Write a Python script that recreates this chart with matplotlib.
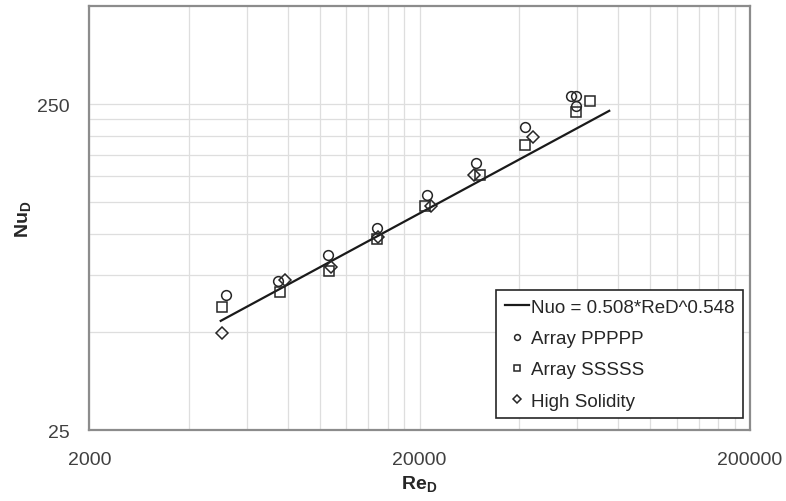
import matplotlib
matplotlib.use("Agg")
import matplotlib.pyplot as plt
import numpy as np
from matplotlib.ticker import FixedLocator, NullFormatter, FixedFormatter

plt.rcParams['font.family'] = ['Liberation Sans', 'DejaVu Sans']
plt.rcParams['mathtext.fontset'] = 'custom'
plt.rcParams['mathtext.rm'] = 'Liberation Sans'
plt.rcParams['mathtext.bf'] = 'Liberation Sans:bold'

# data
re_ppppp = [5170, 7470, 10580, 14860, 21040, 29640, 41600, 57600, 59400, 59400]
nu_ppppp = [64.9, 71.6, 86.3, 104.5, 131.7, 164.8, 212, 265, 265, 247]

re_sssss = [5050, 7550, 10600, 14860, 20800, 30550, 41700, 59400, 65600]
nu_sssss = [59.5, 66.4, 76.9, 96.4, 121.4, 151.6, 187.6, 235.7, 254.8]

re_high = [5050, 7850, 10800, 14950, 21640, 29160, 44060]
nu_high = [49.6, 72.3, 78.9, 97.7, 121.6, 151.6, 197.7]

# correlation Nuo = 0.508*ReD^0.548, drawn over the data range
fit_c = 0.508
fit_n = 0.548
fit_re = np.array([5000, 75000])
fit_nu = fit_c * fit_re ** fit_n

x_major = [2000, 20000, 200000]
x_minor = [2000 * k for k in range(2, 10)] + [20000 * k for k in range(2, 10)]
y_major = [25, 250]
y_minor = [25 * k for k in range(2, 10)]

fig = plt.figure(figsize=(7.86, 5.02), dpi=100)
ax = fig.add_axes([0.1136, 0.1414, 0.8405, 0.8446])

ax.set_xscale('log')
ax.set_yscale('log')
ax.set_xlim(2000, 200000)
ax.set_ylim(25, 500)

ax.xaxis.set_major_locator(FixedLocator(x_major))
ax.xaxis.set_major_formatter(FixedFormatter([str(v) for v in x_major]))
ax.xaxis.set_minor_locator(FixedLocator(x_minor))
ax.xaxis.set_minor_formatter(NullFormatter())
ax.yaxis.set_major_locator(FixedLocator(y_major))
ax.yaxis.set_major_formatter(FixedFormatter([str(v) for v in y_major]))
ax.yaxis.set_minor_locator(FixedLocator(y_minor))
ax.yaxis.set_minor_formatter(NullFormatter())

ax.grid(True, which='both', color='#dedede', linewidth=0.9)
ax.set_axisbelow(True)
ax.tick_params(which='both', length=0, labelsize=14, labelcolor='#404040')
ax.tick_params(axis='x', pad=15)
ax.tick_params(axis='y', pad=14)

for s in ax.spines.values():
    s.set_color('#8c8c8c')
    s.set_linewidth(1.6)

ax.plot(fit_re, fit_nu, color='#1a1a1a', linewidth=1.6, label='Nuo = 0.508*ReD^0.548')
ax.plot(re_ppppp, nu_ppppp, linestyle='none', marker='o', markersize=7,
        markerfacecolor='none', markeredgecolor='#262626', markeredgewidth=1.1,
        label='Array PPPPP')
ax.plot(re_sssss, nu_sssss, linestyle='none', marker='s', markersize=6.5,
        markerfacecolor='none', markeredgecolor='#262626', markeredgewidth=1.1,
        label='Array SSSSS')
ax.plot(re_high, nu_high, linestyle='none', marker='D', markersize=6.5,
        markerfacecolor='none', markeredgecolor='#262626', markeredgewidth=1.1,
        label='High Solidity')

ax.set_xlabel(r'$\mathbf{Re}_\mathbf{D}$', fontsize=14, color='#262626', labelpad=4)
ax.set_ylabel(r'$\mathbf{Nu}_\mathbf{D}$', fontsize=14, color='#262626', labelpad=2)

leg = ax.legend(loc='lower right', bbox_to_anchor=(0.9894, 0.0283), borderaxespad=0,
                fontsize=13.5, frameon=True, fancybox=False, edgecolor='#262626',
                framealpha=1, handlelength=1.28, handletextpad=0.12,
                labelspacing=0.75, borderpad=0.45, markerscale=0.6)
leg.get_frame().set_linewidth(1.2)
for t in leg.get_texts():
    t.set_color('#262626')

fig.savefig('out.png', dpi=100)
